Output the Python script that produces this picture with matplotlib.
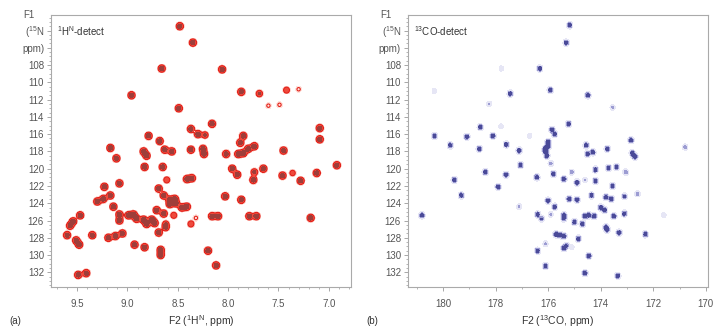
import numpy as np
import matplotlib
matplotlib.use("Agg")
import matplotlib.pyplot as plt
from matplotlib.ticker import MultipleLocator

plt.rcParams['font.family'] = ['Liberation Sans', 'DejaVu Sans']
plt.rcParams['mathtext.fontset'] = 'custom'
plt.rcParams['mathtext.rm'] = 'Liberation Sans'

# panel (a): 1H-detected HSQC peaks (1H ppm, 15N ppm, relative height)
h_ppm = [8.48, 8.35, 8.66, 8.06, 8.96, 7.87, 7.69, 7.42, 7.30, 7.60, 7.49, 8.49, 8.16, 8.37, 8.30,
         8.23, 8.79, 8.68, 7.85, 7.88, 7.09, 7.09, 9.17, 9.11, 8.84, 8.81, 8.63, 8.56, 8.37, 8.25,
         8.24, 8.02, 7.85, 7.80, 7.74, 7.90, 7.45, 6.92, 8.83, 8.65, 7.96, 7.91, 7.74, 7.65, 7.46,
         7.36, 7.12, 7.28, 7.75, 8.61, 8.41, 8.36, 9.23, 9.08, 8.69, 9.30, 9.24, 9.17, 8.64, 8.58,
         8.53, 8.58, 8.52, 8.03, 7.87, 8.41, 8.46, 9.47, 9.54, 9.57, 9.14, 9.08, 9.08, 8.99, 8.94,
         8.91, 8.84, 8.81, 8.76, 8.73, 8.71, 8.64, 8.54, 8.62, 8.69, 8.62, 8.37, 8.32, 8.16, 8.10,
         7.79, 7.72, 7.18, 9.60, 9.51, 9.48, 9.35, 9.19, 9.12, 9.05, 8.93, 8.83, 8.67, 8.67, 8.20,
         8.12, 9.49, 9.41]
n_ppm_a = [103.5, 105.4, 108.4, 108.5, 111.5, 111.1, 111.3, 110.9, 110.8, 112.7, 112.6, 113.0, 114.8, 115.4, 116.0,
           116.1, 116.2, 116.8, 116.2, 117.0, 115.3, 116.6, 117.6, 118.8, 118.0, 118.5, 117.8, 118.0, 117.8, 117.7,
           118.3, 118.3, 118.2, 117.7, 117.4, 118.3, 117.9, 119.6, 119.8, 119.8, 120.0, 120.7, 120.4, 120.0, 120.8,
           120.5, 120.5, 121.4, 121.3, 121.3, 121.2, 121.1, 122.1, 121.7, 122.3, 123.8, 123.5, 123.1, 123.1, 123.6,
           123.5, 124.1, 124.0, 123.2, 123.6, 124.4, 124.5, 125.4, 126.1, 126.6, 124.4, 125.3, 126.0, 125.4, 125.3,
           125.8, 125.9, 126.4, 125.9, 126.3, 124.8, 125.2, 125.4, 126.4, 127.4, 126.8, 126.4, 125.7, 125.5, 125.5,
           125.5, 125.5, 125.7, 127.7, 128.3, 128.8, 127.7, 128.0, 127.8, 127.5, 128.8, 129.1, 129.4, 130.0, 129.5,
           131.2, 132.3, 132.1]
amp_a = [1, 1, 1, 1, 1, 1, 0.7, 0.6, 0.3, 0.3, 0.3, 1, 1, 1, 1,
         0.7, 1, 1, 1, 1, 1, 1, 1, 1, 1, 1, 1, 1, 1, 1,
         1, 1, 1, 1, 1, 1, 1, 1, 1, 1, 1, 1, 0.8, 1, 1,
         0.5, 1, 1, 1, 0.6, 1, 1, 1, 1, 1, 1, 1, 1, 1, 1,
         1, 1, 1, 1, 1, 1, 1, 1, 1, 1, 1, 1, 1, 1, 1,
         1, 1, 1, 1, 1, 1, 1, 0.6, 0.6, 1, 0.8, 0.6, 0.3, 1, 1,
         1, 1, 1, 1, 1, 1, 1, 1, 1, 1, 1, 1, 1, 1, 1,
         1, 1, 1]

# panel (b): 13CO-detected CON peaks (13C ppm, 15N ppm, relative height)
co_ppm = [175.18, 175.31, 176.32, 177.78, 175.92, 177.44, 180.33, 174.49, 178.24, 173.55, 175.22, 178.58, 177.79,
          175.85, 175.75, 176.70, 180.32, 179.72, 179.09, 178.62, 178.10, 177.59, 177.10, 176.0, 176.0, 176.1,
          176.1, 176.05, 174.55, 174.5, 174.3, 173.75, 172.85, 172.8, 172.7, 170.79, 177.05, 178.39, 177.6,
          179.57, 179.30, 177.9, 180.8, 177.1, 176.43, 175.8, 175.4, 175.1, 174.9, 174.6, 174.2, 174.2, 173.7,
          173.4, 173.05, 173.55, 175.2, 174.9, 174.35, 173.8, 173.6, 173.1, 172.6, 176.0, 175.75, 174.0, 173.85,
          176.4, 176.25, 175.9, 175.4, 175.4, 175.0, 174.7, 174.6, 174.45, 174.25, 173.5, 173.1, 173.8, 173.75,
          173.3, 172.3, 171.6, 175.7, 175.55, 175.4, 174.85, 176.1, 175.4, 175.3, 175.1, 176.4, 174.45, 176.1,
          174.6, 173.35, 175.9]
n_ppm_b = [103.4, 105.4, 108.4, 108.4, 110.9, 111.3, 111.0, 111.5, 112.5, 112.9, 114.8, 115.2, 115.1,
           115.5, 116.0, 116.2, 116.2, 117.3, 116.3, 117.7, 116.2, 117.2, 117.9, 116.9, 117.4, 117.7,
           118.0, 118.5, 117.3, 118.3, 118.1, 117.7, 116.7, 118.2, 118.6, 117.5, 119.6, 120.4, 120.7,
           121.3, 123.1, 122.1, 125.4, 124.4, 121.0, 120.6, 121.2, 120.4, 121.6, 121.3, 120.1, 121.4, 119.9,
           119.8, 120.4, 122.0, 123.5, 123.6, 123.1, 123.3, 123.5, 123.2, 122.9, 123.7, 124.4, 124.5, 124.8,
           125.3, 125.8, 125.3, 125.4, 125.8, 126.2, 126.4, 125.5, 125.4, 125.5, 125.5, 125.2, 126.8, 127.1,
           127.4, 127.6, 125.4, 127.6, 127.7, 127.8, 128.1, 128.7, 129.2, 128.9, 129.1, 129.5, 130.1, 131.3,
           132.1, 132.4, 119.4]
amp_b = [1, 1, 1, 0.3, 1, 1, 0.3, 1, 0.4, 0.4, 1, 1, 0.3,
         1, 1, 0.3, 1, 1, 1, 1, 1, 1, 1, 1, 1, 1,
         1, 1, 1, 1, 1, 1, 1, 1, 1, 0.5, 1, 1, 1,
         1, 1, 1, 1, 0.4, 1, 1, 1, 0.5, 1, 0.4, 1, 1, 1,
         1, 0.6, 1, 1, 1, 1, 1, 1, 0.8, 0.5, 1, 1, 1, 1,
         1, 0.7, 0.4, 1, 0.7, 1, 1, 1, 1, 1, 1, 1, 1, 0.7,
         1, 1, 0.3, 1, 1, 1, 1, 0.4, 1, 0.7, 0.3, 1, 1, 1,
         1, 1, 0.5]


def spectrum(xs, ys, amps, xgrid, ygrid, sx, sy):
    X, Y = np.meshgrid(xgrid, ygrid)
    Z = np.zeros_like(X)
    for x0, y0, a in zip(xs, ys, amps):
        Z += a * np.exp(-((X - x0) ** 2 / (2 * sx ** 2) + (Y - y0) ** 2 / (2 * sy ** 2)))
    return X, Y, Z


fig = plt.figure(figsize=(7.17, 3.29), dpi=100)
ax1 = fig.add_axes([0.0711, 0.1277, 0.4184, 0.8267])
ax2 = fig.add_axes([0.569, 0.1277, 0.4184, 0.8267])

ylim = (133.7, 102.2)
grey = '#555555'

# (a) 1H detect
hx = np.linspace(9.8, 6.75, 800)
ny = np.linspace(102, 134, 600)
X, Y, Z = spectrum(h_ppm, n_ppm_a, amp_a, hx, ny, 0.021, 0.25)
ax1.contourf(X, Y, Z, levels=[0.12, 0.3, 0.62, 50], colors=['#ffe2dc', '#ee4a3c', '#9e3e3a'])
ax1.contour(X, Y, Z, levels=[0.22], colors=['#e3221b'], linewidths=0.8)
ax1.set_xlim(9.76, 6.78)
ax1.xaxis.set_minor_locator(MultipleLocator(0.1))
ax1.set_xticks([9.5, 9.0, 8.5, 8.0, 7.5, 7.0])
ax1.set_xticklabels(['9.5', '9.0', '8.5', '8.0', '7.5', '7.0'])
ax1.set_xlabel(r'F2 ($^{1}$H$^{\rm N}$, ppm)', fontsize=7.5, color='#333333')
ax1.text(0.02, 0.965, r'$^{1}$H$^{\rm N}$-detect', transform=ax1.transAxes,
         fontsize=7, color='#333333', va='top')

# (b) 13CO detect
cx = np.linspace(181.5, 169.8, 800)
X, Y, Z = spectrum(co_ppm, n_ppm_b, amp_b, cx, ny, 0.058, 0.2)
ax2.contourf(X, Y, Z, levels=[0.1, 0.35, 0.65, 50], colors=['#e6e6f5', '#9c9cd2', '#4a4a98'])
ax2.set_xlim(181.33, 169.92)
ax2.xaxis.set_major_locator(MultipleLocator(2))
ax2.xaxis.set_minor_locator(MultipleLocator(1))
ax2.set_xlabel(r'F2 ($^{13}$CO, ppm)', fontsize=7.5, color='#333333')
ax2.text(0.02, 0.965, r'$^{13}$CO-detect', transform=ax2.transAxes,
         fontsize=7, color='#333333', va='top')

for ax, tag in [(ax1, '(a)'), (ax2, '(b)')]:
    ax.set_ylim(*ylim)
    ax.set_yticks([104, 106] + list(range(108, 133, 2)))
    ax.set_yticklabels([r'($^{15}$N', 'ppm)'] + [str(v) for v in range(108, 133, 2)])
    ax.yaxis.set_minor_locator(MultipleLocator(0.5))
    ax.text(-0.075, 1.0, 'F1', transform=ax.transAxes, fontsize=7, color=grey, ha='center', va='center')
    ax.tick_params(axis='both', which='major', labelsize=7, colors='#999999', labelcolor=grey,
                   length=3, width=0.6)
    ax.tick_params(axis='x', which='major', pad=6)
    ax.tick_params(axis='y', which='major', pad=2)
    ax.tick_params(axis='both', which='minor', colors='#999999', length=1.5, width=0.5)
    for s in ax.spines.values():
        s.set_color('#aaaaaa')
        s.set_linewidth(0.8)
    ax.xaxis.set_label_coords(0.5, -0.097)
    ax.text(-0.14, -0.105, tag, transform=ax.transAxes, fontsize=7, color='#333333', va='top')

fig.savefig('out.png', dpi=100)
